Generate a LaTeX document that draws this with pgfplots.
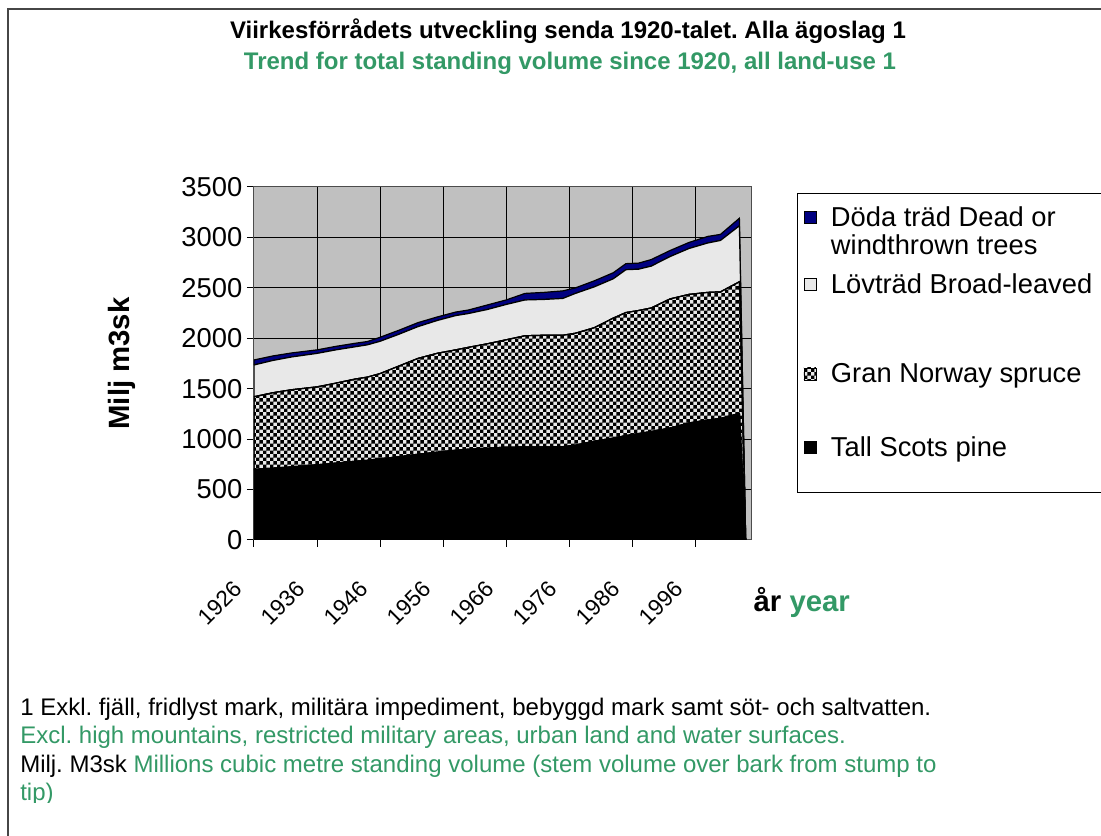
\documentclass[border=0pt]{standalone}
\usepackage{fontspec}
\setmainfont{Liberation Sans}
\usepackage{pgfplots}
\pgfplotsset{compat=1.18}
\usepackage{pgfplotstable}
\usetikzlibrary{patterns}
\frenchspacing

\definecolor{deadnavy}{RGB}{0,0,128}
\definecolor{broadgray}{RGB}{232,232,232}
\definecolor{plotbg}{RGB}{192,192,192}
\definecolor{seagreen}{RGB}{51,153,102}
\definecolor{framegray}{RGB}{70,70,70}

% Excel-like small checkerboard for the spruce layer
\pgfdeclarepatternformonly{excelcheck}{\pgfpointorigin}{\pgfqpoint{5.2pt}{5.2pt}}{\pgfqpoint{5.2pt}{5.2pt}}{%
  \pgfpathrectangle{\pgfpointorigin}{\pgfqpoint{2.6pt}{2.6pt}}%
  \pgfpathrectangle{\pgfqpoint{2.6pt}{2.6pt}}{\pgfqpoint{2.6pt}{2.6pt}}%
  \pgfusepath{fill}}

% standing volume, million m3sk, per layer (stacked)
\pgfplotstableread{
year pine spruce broad dead
1926 700  720  315 50
1929 712  748  320 45
1932 725  765  325 40
1936 745  773  332 35
1939 762  793  330 35
1942 780  815  320 35
1944 790  825  320 33
1946 805  845  320 40
1949 825  900  315 40
1952 850  950  315 40
1955 870  980  325 35
1958 890  995  340 35
1960 900  1010 335 35
1963 910  1035 340 45
1966 920  1065 350 45
1969 922  1103 355 65
1972 922  1108 355 70
1975 925  1105 365 75
1977 940  1110 395 55
1980 980  1125 405 60
1983 1010 1190 390 60
1985 1035 1220 425 60
1987 1055 1220 410 60
1989 1075 1225 415 65
1992 1110 1280 420 60
1995 1160 1275 455 60
1998 1190 1265 490 65
2000 1205 1255 510 60
2003 1255 1305 555 75
2004 0    0    0   0
}\volumes

% legend text: a box of fixed height, text at its top, no depth
\newcommand\legtext[2]{\parbox[b][#1][t]{215pt}{\strut #2}}
% legend square, raised to sit beside the first line of its entry
\newcommand\legsquare[1]{\pgfplotsset{legend image code/.code={%
  \draw[##1, draw=black, line width=0.6pt] (0pt,#1-4.5pt) rectangle (9pt,#1+4.5pt);}}}

\begin{document}
\begin{tikzpicture}
\useasboundingbox (0pt,0pt) rectangle (825.75pt,627pt);
\clip (0pt,0pt) rectangle (825.75pt,627pt);
\begin{scope}[x=0.75pt,y=0.75pt]
\fill[white] (0,0) rectangle (1101,836);
\draw[framegray, line width=1.5pt] (7.5,827) rectangle (1130,-30);
\end{scope}

\begin{axis}[
  at={(190.5pt,222pt)}, anchor=south west,
  scale only axis, width=373.5pt, height=264.75pt,
  xmin=1926, xmax=2005, ymin=0, ymax=3500,
  xtick={1926,1936,...,1996}, ytick={0,500,...,3500},
  xtick pos=bottom, ytick pos=left, tick align=outside,
  major tick length=5.25pt,
  grid=major, major grid style={black, line width=0.75pt},
  axis background/.style={fill=plotbg},
  axis line style={draw=gray!60!black, line width=0.75pt},
  tick style={black, line width=0.75pt},
  stack plots=y,
  /pgf/number format/assume math mode=true,
  /pgf/number format/1000 sep={},
  yticklabel style={font=\fontsize{20.5}{24}\selectfont},
  xticklabel style={font=\fontsize{17}{20}\selectfont,
    yshift=-32.6pt, xshift=-8pt, rotate=45, anchor=base east, inner sep=0pt},
  ylabel={Milj m3sk},
  ylabel style={at={(axis description cs:-0.265,0.5)}, anchor=center,
    font=\bfseries\fontsize{22}{24}\selectfont},
  xlabel={år \textcolor{seagreen}{year}},
  xlabel style={at={(axis description cs:1.10,-0.178)}, anchor=center,
    font=\bfseries\fontsize{22}{24}\selectfont},
  reverse legend, legend cell align=left,
  legend style={at={(axis description cs:1.0904,0.983)}, anchor=north west,
    draw=black, line width=0.75pt, fill=white, inner xsep=4.5pt, inner ysep=9.5pt,
    row sep=0pt, font=\fontsize{20.5}{21.5}\selectfont,
    cells={anchor=west, inner sep=0pt}, nodes={inner sep=0pt},
    /tikz/every odd column/.append style={column sep=11pt}},
  every axis plot/.append style={draw=black, line width=0.9pt},
]
\addplot[fill=black, /utils/exec={\legsquare{7.85pt}}] table[x=year, y=pine] {\volumes} \closedcycle;
\addlegendentry{\legtext{31.2pt}{Tall Scots pine}}
\addplot[fill=broadgray, postaction={pattern=excelcheck, pattern color=black}, /utils/exec={\legsquare{19.075pt}}] table[x=year, y=spruce] {\volumes} \closedcycle;
\addlegendentry{\legtext{53.65pt}{Gran Norway spruce}}
\addplot[fill=broadgray, /utils/exec={\legsquare{25.05pt}}] table[x=year, y=broad] {\volumes} \closedcycle;
\addlegendentry{\legtext{65.6pt}{Lövträd Broad-leaved}}
\addplot[fill=deadnavy, /utils/exec={\legsquare{16.625pt}}] table[x=year, y=dead] {\volumes} \closedcycle;
\addlegendentry{\legtext{48.75pt}{Döda träd Dead or\\windthrown trees}}
\end{axis}

\begin{scope}[x=0.75pt,y=0.75pt]
\node[font=\bfseries\fontsize{18}{20}\selectfont] at (568,805)
  {Viirkesförrådets utveckling senda 1920-talet. Alla ägoslag 1};
\node[font=\bfseries\fontsize{18}{20}\selectfont, text=seagreen] at (570,773)
  {Trend for total standing volume since 1920, all land-use 1};
\clip (0,33) rectangle (1101,836);
\begin{scope}[every node/.style={anchor=base west, inner sep=0pt, font=\fontsize{18}{20}\selectfont}]
\node at (20,120) {1 Exkl. fjäll, fridlyst mark, militära impediment, bebyggd mark samt söt- och saltvatten.};
\node[text=seagreen] at (20,92) {Excl. high mountains, restricted military areas, urban land and water surfaces.};
\node at (20,63) {Milj. M3sk \textcolor{seagreen}{Millions cubic metre standing volume (stem volume over bark from stump to}};
\node[text=seagreen] at (20,35) {tip)};
\end{scope}
\end{scope}
\end{tikzpicture}
\end{document}
